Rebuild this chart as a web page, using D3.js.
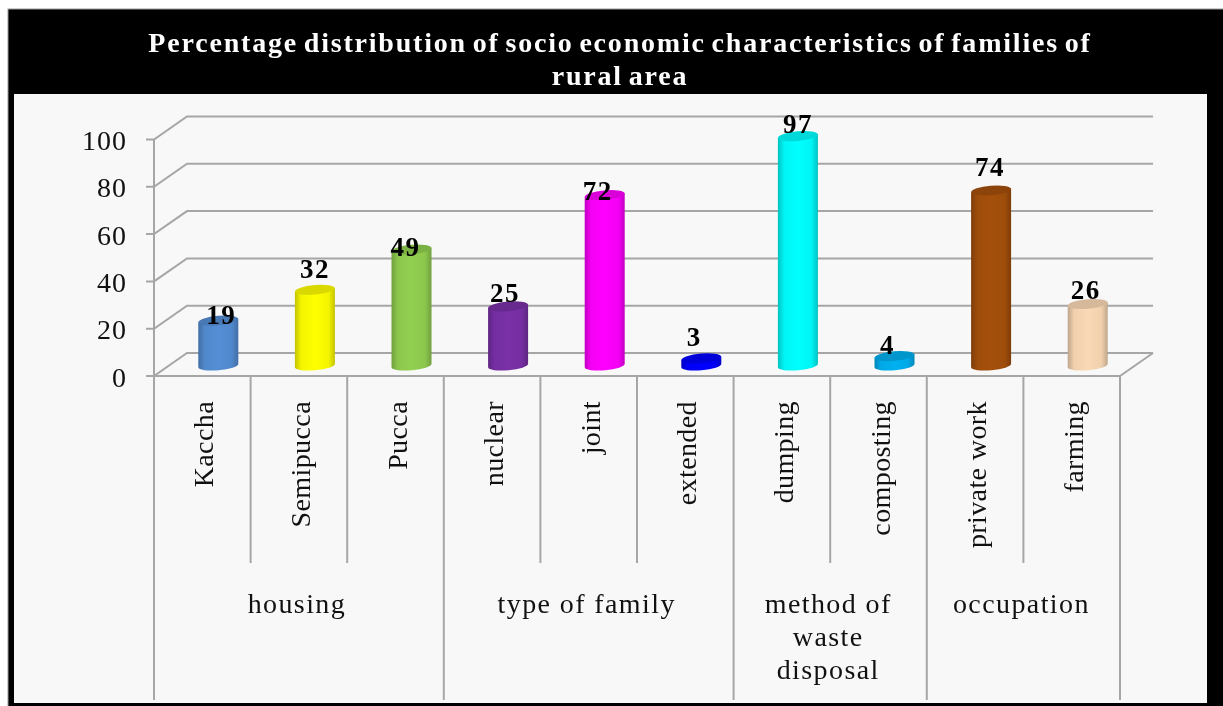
<!DOCTYPE html>
<html><head><meta charset="utf-8">
<script src="https://cdnjs.cloudflare.com/ajax/libs/d3/7.8.5/d3.min.js"></script>
<style>html,body{margin:0;padding:0;background:#fff;overflow:hidden}svg{display:block;filter:blur(0.5px)}text{font-family:"Liberation Serif",serif}</style>
</head><body><div id="c"></div>
<script>
const categories=["Kaccha","Semipucca","Pucca","nuclear","joint","extended","dumping","composting","private work","farming"];
const values=[19,32,49,25,72,3,97,4,74,26];
const colors=["#558ed5","#ffff00","#92d050","#7a30a8","#ff00ff","#0000ff","#00ffff","#00b0f0","#a5500c","#fad9b5"];
const groups=["housing","type of family",["method of","waste","disposal"],"occupation"];
const groupSpans=[3,3,2,2];
const yTicks=[0,20,40,60,80,100];
const titleLines=["Percentage distribution of socio economic characteristics of families of","rural area"];

const W=1223,H=706;
const svg=d3.select("#c").append("svg").attr("width",W).attr("height",H);
const defs=svg.append("defs");
const x=d3.scaleBand().domain(categories).range([154,1120]).padding(0);
const y=d3.scaleLinear().domain([0,100]).range([376,139.5]);
const dx=33,dy=-23;

// frame
svg.append("rect").attr("x",8).attr("y",9).attr("width",W).attr("height",H).attr("fill","#000").attr("stroke","#999").attr("stroke-width",1);
svg.append("rect").attr("x",14).attr("y",94).attr("width",1193).attr("height",609).attr("fill","#f8f8f8");
svg.selectAll("text.title").data(titleLines).join("text").attr("class","title")
 .attr("x",620).attr("y",(d,i)=>52+i*33).attr("text-anchor","middle")
 .attr("font-size",28).attr("font-weight","bold").attr("fill","#fff").attr("letter-spacing",1.8).attr("word-spacing",-3).text(d=>d);

const grid="#a6a6a6";
const g=svg.append("g").attr("stroke",grid).attr("stroke-width",2).attr("fill","none");
yTicks.forEach(t=>{
  g.append("path").attr("d",d3.line()([[146,y(t)],[154,y(t)],[154+dx,y(t)+dy],[1120+dx,y(t)+dy]]));
});
g.append("path").attr("d",d3.line()([[154,y(100)],[154,y(0)],[1120,y(0)],[1120+dx,y(0)+dy]]));
let cum=0;const outer=[0];groupSpans.forEach(s=>{cum+=s;outer.push(cum)});
d3.range(11).forEach(i=>{
  const px=154+i*x.step();
  g.append("line").attr("x1",px).attr("x2",px).attr("y1",y(0)).attr("y2",outer.includes(i)?700:563);
});
svg.selectAll("text.yt").data(yTicks).join("text").attr("class","yt")
 .attr("x",127).attr("y",d=>y(d)+10.5).attr("text-anchor","end").attr("font-size",28).attr("letter-spacing",1).attr("fill","#111").text(d=>d);

// cylinders
const rx=20,ry=4.8,tilt=-5;
const labelDy=[-3,12,-6,4,-5,12,3,2.5,14,5.5];
const labelDx=[3,0,-6,-3,-7,-7,0,-7,-1,-2];
categories.forEach((c,i)=>{
  const col=d3.color(colors[i]);
  const gid="grad"+i;
  const gr=defs.append("linearGradient").attr("id",gid);
  [[0,col.darker(0.75)],[0.16,col.darker(0.12)],[0.5,col],[0.84,col.darker(0.12)],[1,col.darker(0.75)]]
   .forEach(s=>gr.append("stop").attr("offset",s[0]).attr("stop-color",s[1]));
  const cx=x(c)+x.bandwidth()/2+16;
  const by=y(0)-10.5, ty=y(values[i])-10.5;
  const a=Math.tan(-tilt*Math.PI/180)*rx;
  svg.append("path").attr("fill",`url(#${gid})`)
   .attr("d",`M${cx-rx},${ty+a}L${cx-rx},${by+a}A${rx},${ry} ${tilt} 0 0 ${cx+rx},${by-a}L${cx+rx},${ty-a}Z`);
  svg.append("ellipse").attr("cx",cx).attr("cy",ty).attr("rx",rx).attr("ry",ry)
   .attr("transform",`rotate(${tilt} ${cx} ${ty})`).attr("fill",col.darker(0.45));
  svg.append("text").attr("x",cx+labelDx[i]).attr("y",ty-labelDy[i])
   .attr("text-anchor","middle").attr("font-size",27).attr("font-weight","bold").attr("letter-spacing",1.5).attr("fill","#000").text(values[i]);
});
svg.selectAll("text.cat").data(categories).join("text").attr("class","cat")
 .attr("transform",d=>`translate(${x(d)+x.bandwidth()/2+11},401) rotate(-90)`)
 .attr("text-anchor","end").attr("font-size",28).attr("letter-spacing",0.4).attr("fill","#111").text(d=>d);
let start=0;
groups.forEach((gl,i)=>{
  const lines=Array.isArray(gl)?gl:[gl];
  const cx=154+(start+groupSpans[i]/2)*x.step()-2;
  start+=groupSpans[i];
  lines.forEach((l,j)=>svg.append("text").attr("x",cx).attr("y",613+j*33).attr("text-anchor","middle")
    .attr("font-size",28).attr("letter-spacing",1.4).attr("fill","#111").text(l));
});
</script></body></html>
